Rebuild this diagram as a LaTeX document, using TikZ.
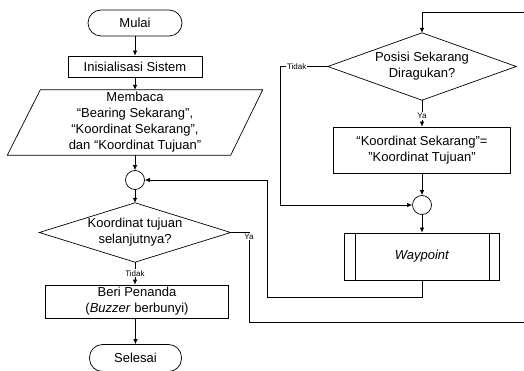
\documentclass[tikz,border=0pt]{standalone}
\usepackage{fontspec}
\setmainfont{Liberation Sans}
\usetikzlibrary{arrows.meta}
\begin{document}
\begin{tikzpicture}[x=1pt,y=-1pt,
  every node/.style={font=\fontsize{13}{16}\selectfont, align=center, inner sep=0pt},
  flowline/.style={line width=0.7pt},
  arr/.style={flowline,-{Latex[length=5pt,width=4.5pt]}},
  term/.style={draw, line width=0.7pt, rounded corners=13pt, minimum width=94pt, minimum height=26pt},
  proc/.style={draw, line width=0.7pt},
  area/.style={minimum width=#1},
  joint/.style={circle, draw, line width=0.7pt, minimum size=19pt},
  lbl/.style={font=\fontsize{8}{9}\selectfont, fill=white, inner sep=1pt}
]
\useasboundingbox (0,0) rectangle (524,371);
\clip (0,0) rectangle (524,371);

% left column
\node[term] (mulai) at (135,23) {Mulai};
\node[proc, minimum width=134pt, minimum height=21pt] (init) at (135,66.5) {Inisialisasi Sistem};
\node[minimum width=255pt, minimum height=65pt] (read) at (135,122.5)
  {Membaca\\“Bearing Sekarang”,\\“Koordinat Sekarang”,\\dan “Koordinat Tujuan”};
\draw[flowline] ([xshift=33pt]read.north west) -- (read.north east)
  -- ([xshift=-32pt]read.south east) -- (read.south west) -- cycle;
\node[joint] (c1) at (135,180) {};
\node[minimum width=191pt, minimum height=59pt] (dec1) at (135,232.5)
  {Koordinat tujuan\\selanjutnya?};
\draw[flowline] (dec1.north) -- (dec1.east) -- (dec1.south) -- (dec1.west) -- cycle;
\node[proc, minimum width=183pt, minimum height=33pt] (beri) at (137,301.5)
  {Beri Penanda\\(\textit{Buzzer} berbunyi)};
\node[term, minimum width=92pt, minimum height=27pt] (selesai) at (135.5,358) {Selesai};

% right column
\node[minimum width=188pt, minimum height=67pt] (dec2) at (422,66.5)
  {Posisi Sekarang\\Diragukan?};
\draw[flowline] (dec2.north) -- (dec2.east) -- (dec2.south) -- (dec2.west) -- cycle;
\node[proc, minimum width=177pt, minimum height=46pt] (box2) at (422,150)
  {“Koordinat Sekarang”=\\"Koordinat Tujuan"};
\node[joint] (c2) at (422,205) {};
\node[proc, minimum width=155pt, minimum height=47pt] (wp) at (422,256.5) {\textit{Waypoint}};
\draw[flowline] ([xshift=11pt]wp.north west) -- ([xshift=11pt]wp.south west);
\draw[flowline] ([xshift=-11pt]wp.north east) -- ([xshift=-11pt]wp.south east);

% routing points
\coordinate (yaturn) at (249,322);
\coordinate (edgeA) at (530,322);
\coordinate (edgeB) at (530,12);
\coordinate (tidakturn) at (280,66.5);
\coordinate (loopturn) at (267,297);

% connectors
\draw[arr] (mulai.south) -- (init.north);
\draw[arr] (init.south) -- (read.north);
\draw[arr] (read.south) -- (c1.north);
\draw[arr] (c1.south) -- (dec1.north);
\draw[arr] (dec1.south) -- node[lbl]{Tidak} (dec1.south |- beri.north);
\draw[arr] (beri.south -| selesai.north) -- (selesai.north);
\draw[arr] (dec1.east) -| node[lbl, anchor=north, pos=0.5]{Ya} (yaturn)
  -- (edgeA) -- (edgeB) -| (dec2.north);
\draw[arr] (dec2.south) -- node[lbl, pos=0.6]{Ya} (box2.north);
\draw[arr] (box2.south) -- (c2.north);
\draw[arr] (dec2.west) -- node[lbl, pos=0.65]{Tidak} (tidakturn) |- (c2.west);
\draw[arr] (c2.south) -- (wp.north);
\draw[arr] (wp.south) |- (loopturn) |- (c1.east);
\end{tikzpicture}
\end{document}
